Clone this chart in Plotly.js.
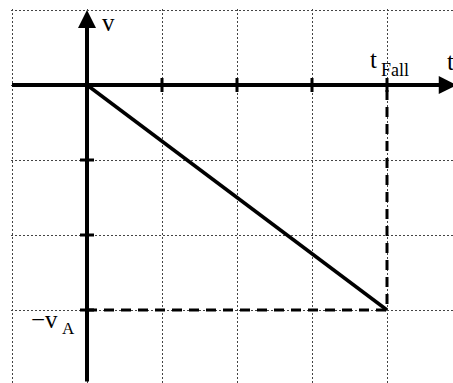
<!DOCTYPE html>
<html>
<head>
<meta charset="utf-8">
<script src="https://cdn.plot.ly/plotly-3.0.1.min.js"></script>
<style>
  html, body { margin: 0; padding: 0; background: #fff; }
  #ramp { width: 453px; height: 383px; }
</style>
</head>
<body>
<div id="ramp"></div>
<script>
// fall time and final value of the ramp (grid units)
const tFall = 4;
const vA = -3;

const rampT = [0, tFall];
const rampV = [0, vA];

const guideT = [0, tFall, tFall];
const guideV = [vA, vA, 0];

const tickT = [1, 2, 3, 4];
const tickV = [-1, -2, -3];

const serif = "Liberation Serif, Times New Roman, serif";

const data = [
  {
    x: guideT, y: guideV, mode: "lines",
    line: {color: "#000", width: 3, dash: "10px,7px"},
    hoverinfo: "skip"
  },
  {
    x: rampT, y: rampV, mode: "lines",
    line: {color: "#000", width: 3.5},
    hoverinfo: "skip"
  },
  {
    x: tickT, y: tickT.map(() => 0), mode: "markers",
    marker: {symbol: "line-ns", size: 10, line: {color: "#000", width: 3}},
    hoverinfo: "skip"
  },
  {
    x: tickV.map(() => 0), y: tickV, mode: "markers",
    marker: {symbol: "line-ew", size: 10, line: {color: "#000", width: 3}},
    hoverinfo: "skip"
  }
];

const label = (text, x, y, size) => ({
  text: text, x: x, y: y, xref: "x", yref: "y",
  showarrow: false, xanchor: "center", yanchor: "middle",
  font: {family: serif, size: size, color: "#000"}
});

const axisArrow = (x, y, ax, ay) => ({
  text: "", x: x, y: y, ax: ax, ay: ay,
  xref: "x", yref: "y", axref: "x", ayref: "y",
  showarrow: true, arrowhead: 2, arrowsize: 0.9, arrowwidth: 4,
  arrowcolor: "#000", standoff: 0, startstandoff: 0
});

const layout = {
  width: 453,
  height: 383,
  margin: {l: 0, r: 0, t: 0, b: 0},
  paper_bgcolor: "#fff",
  plot_bgcolor: "#fff",
  showlegend: false,
  xaxis: {
    domain: [10.5 / 453, 1],
    range: [-1.02, 4.88],
    tick0: 0, dtick: 1,
    showgrid: true, gridcolor: "#444", griddash: "2px,2px", gridwidth: 1,
    zeroline: false, showticklabels: false, ticks: "", showline: false,
    fixedrange: true
  },
  yaxis: {
    domain: [0, 374.5 / 383],
    range: [-3.973, 1.02],
    tick0: 0, dtick: 1,
    showgrid: true, gridcolor: "#444", griddash: "2px,2px", gridwidth: 1,
    zeroline: false, showticklabels: false, ticks: "", showline: false,
    fixedrange: true
  },
  annotations: [
    axisArrow(4.93, 0, -1.02, 0),
    axisArrow(0, 1.0, 0, -3.973),
    label("v", 0.287, 0.832, 25),
    label("t", 3.82, 0.338, 25),
    label("Fall", 4.1, 0.205, 18),
    label("t", 4.847, 0.31, 25),
    label("\u2212v", -0.573, -3.12, 25),
    label("A", -0.247, -3.25, 17)
  ]
};

Plotly.newPlot("ramp", data, layout, {staticPlot: true});
</script>
</body>
</html>
